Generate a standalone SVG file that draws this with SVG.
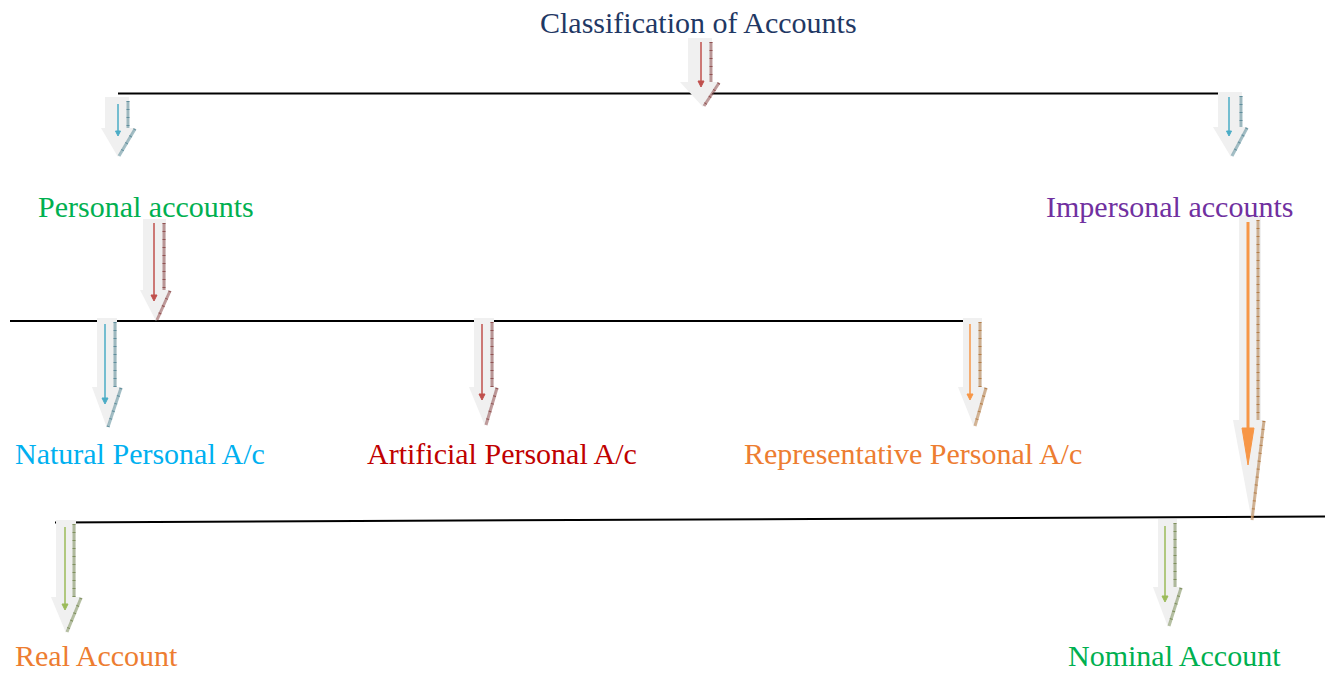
<svg xmlns="http://www.w3.org/2000/svg" width="1325" height="673" viewBox="0 0 1325 673">
<style>
text{font-family:"Liberation Serif","Times New Roman",serif;font-size:30px}
.hl{stroke:#000;stroke-width:2;fill:none}
.body{fill:#f0f0f0;stroke:none}
.sh{fill:none;stroke-width:3;stroke-opacity:.55}
.tk{fill:none;stroke-width:3;stroke-dasharray:1 7;stroke-opacity:.9}
.red .sh,.red .tk{stroke:#8c4a4a}
.blu .sh,.blu .tk{stroke:#5a8a98}
.org .sh,.org .tk{stroke:#b07840}
.grn .sh,.grn .tk{stroke:#7a8c58}
.red .in{stroke:#c0504d;fill:#c0504d}
.blu .in{stroke:#4bacc6;fill:#4bacc6}
.org .in{stroke:#f79646;fill:#f79646}
.grn .in{stroke:#9bbb59;fill:#9bbb59}
</style>
<g id="connectors">
<line class="hl" x1="118" y1="93.5" x2="1222" y2="93.5"/>
<line class="hl" x1="10" y1="321" x2="982" y2="321"/>
<line class="hl" x1="55" y1="522.5" x2="1325" y2="516.5"/>

<!-- arrow 1 -->
<g class="red">
<path class="body" d="M688 38H712V82H720L703 107L680 82H688Z"/>
<path class="sh" d="M711 42V82M719 83L704 106"/>
<path class="tk" d="M711 42V82M719 83L704 106"/>
<line class="in" x1="701" y1="42" x2="701" y2="82" stroke-width="1.5"/>
<path class="in" d="M698 81H704L701 87Z"/>
</g>
<!-- arrow 2 -->
<g class="blu">
<path class="body" d="M105 97H129V128H136L118 157L101 128H105Z"/>
<path class="sh" d="M128 101V128M135 129L119 156"/>
<path class="tk" d="M128 101V128M135 129L119 156"/>
<line class="in" x1="118" y1="104" x2="118" y2="132" stroke-width="1.5"/>
<path class="in" d="M115.5 131H120.5L118 136Z"/>
</g>
<!-- arrow 3 -->
<g class="blu">
<path class="body" d="M1218 92H1242V127H1248L1231 157L1213 127H1218Z"/>
<path class="sh" d="M1241 96V127M1247 128L1232 156"/>
<path class="tk" d="M1241 96V127M1247 128L1232 156"/>
<line class="in" x1="1229" y1="97" x2="1229" y2="132" stroke-width="1.5"/>
<path class="in" d="M1226.5 131H1231.5L1229 136Z"/>
</g>
<!-- arrow 4 -->
<g class="red">
<path class="body" d="M143 219H166V290H171L156 321L140 290H143Z"/>
<path class="sh" d="M164 223V290M170 291L157 320"/>
<path class="tk" d="M164 223V290M170 291L157 320"/>
<line class="in" x1="154" y1="223" x2="154" y2="297" stroke-width="1.5"/>
<path class="in" d="M151 295H157L154 301Z"/>
</g>
<!-- arrow 5 -->
<g class="blu">
<path class="body" d="M97 318H117V387H122L107 428L92 387H97Z"/>
<path class="sh" d="M115 322V387M121 388L108 427"/>
<path class="tk" d="M115 322V387M121 388L108 427"/>
<line class="in" x1="105" y1="324" x2="105" y2="400" stroke-width="1.5"/>
<path class="in" d="M102 398H108L105 404Z"/>
</g>
<!-- arrow 6 -->
<g class="red">
<path class="body" d="M474 318H494V387H498L485 426L469 387H474Z"/>
<path class="sh" d="M492 322V387M497 388L486 425"/>
<path class="tk" d="M492 322V387M497 388L486 425"/>
<line class="in" x1="482" y1="324" x2="482" y2="396" stroke-width="1.5"/>
<path class="in" d="M479 394H485L482 400Z"/>
</g>
<!-- arrow 7 -->
<g class="org">
<path class="body" d="M963 318H982V387H987L974 427L958 387H963Z"/>
<path class="sh" d="M980 322V387M986 388L975 426"/>
<path class="tk" d="M980 322V387M986 388L975 426"/>
<line class="in" x1="970" y1="324" x2="970" y2="396" stroke-width="1.5"/>
<path class="in" d="M967 394H973L970 400Z"/>
</g>
<!-- arrow 8 -->
<g class="org">
<path class="body" d="M1239 215H1261V420H1265L1252 522L1233 420H1239Z"/>
<path class="sh" d="M1258 220V420M1264 421L1252 520"/>
<path class="tk" d="M1258 220V420M1264 421L1252 520"/>
<line class="in" x1="1248" y1="222" x2="1248" y2="432" stroke-width="3"/>
<path class="in" d="M1242 428H1254L1248 465Z"/>
</g>
<!-- arrow 9 -->
<g class="grn">
<path class="body" d="M56 520H76V597H82L66 633L51 597H56Z"/>
<path class="sh" d="M74 524V597M81 598L67 632"/>
<path class="tk" d="M74 524V597M81 598L67 632"/>
<line class="in" x1="65" y1="527" x2="65" y2="606" stroke-width="1.5"/>
<path class="in" d="M62 604H68L65 610Z"/>
</g>
<!-- arrow 10 -->
<g class="grn">
<path class="body" d="M1158 519H1177V587H1182L1168 627L1153 587H1158Z"/>
<path class="sh" d="M1175 523V587M1181 588L1169 626"/>
<path class="tk" d="M1175 523V587M1181 588L1169 626"/>
<line class="in" x1="1165" y1="526" x2="1165" y2="598" stroke-width="1.5"/>
<path class="in" d="M1162 596H1168L1165 602Z"/>
</g>
</g>

<g id="n-classification"><text x="540" y="33" fill="#1f3864">Classification of Accounts</text></g>
<g id="n-personal"><text x="38" y="217" fill="#00b050">Personal accounts</text></g>
<g id="n-impersonal"><text x="1046" y="217" fill="#7030a0">Impersonal accounts</text></g>
<g id="n-natural"><text x="15" y="464" fill="#00b0f0">Natural Personal A/c</text></g>
<g id="n-artificial"><text x="367" y="464" fill="#c00000">Artificial Personal A/c</text></g>
<g id="n-representative"><text x="744" y="464" fill="#ed7d31">Representative Personal A/c</text></g>
<g id="n-real"><text x="15" y="666" fill="#ed7d31">Real Account</text></g>
<g id="n-nominal"><text x="1068" y="666" fill="#00b050">Nominal Account</text></g>
</svg>
